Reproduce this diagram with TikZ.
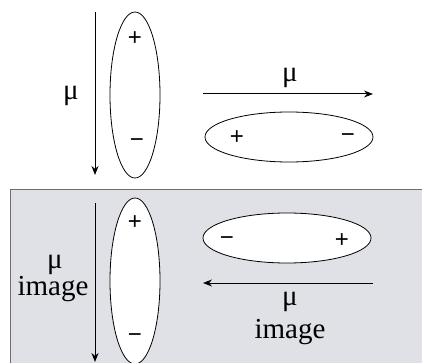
\documentclass[tikz,border=0pt]{standalone}
\usepackage{fontspec}
\setmainfont{Liberation Serif}
\newfontfamily\signfont{Liberation Sans}
\usepackage{xcolor}
\usetikzlibrary{shapes.geometric,arrows.meta}
\definecolor{boxgray}{RGB}{223,225,230}
\definecolor{edgegray}{RGB}{110,110,110}

\tikzset{
  pole/.style={draw,ellipse,inner sep=0pt,line width=0.8pt},
  sign/.style={font=\signfont\fontsize{24}{24}\selectfont,inner sep=0pt},
  lab/.style={font=\fontsize{29}{30}\selectfont,inner sep=0pt,anchor=base},
  dir/.style={line width=1pt,-{Stealth[length=9pt,width=7pt]}}
}

\begin{document}
\begin{tikzpicture}[x=1pt,y=-1pt]
 \useasboundingbox (0,0) rectangle (422,363);
 % image half
 \fill[boxgray] (10,190) rectangle (430,370);
 \draw[edgegray,line width=1pt] (430,190)--(10,190)--(10,370);
 % real dipole
 \coordinate (A1) at (95,12);
 \coordinate (A2) at (95,175);
 \coordinate (B1) at (203,94);
 \coordinate (B2) at (373,94);
 \draw[dir] (A1)--(A2);
 \draw[dir] (B1)--(B2);
 \node[lab] (muA) at (71,100) {μ};
 \node[lab] (muB) at (290,82) {μ};
 \node[pole,minimum width=50,minimum height=166] (E1) at (135,95) {};
 \node[sign] (p1) at (135,39) {+};
 \node[sign] (m1) at (137,143) {−};
 \node[pole,minimum width=168,minimum height=50] (E2) at (289,137) {};
 \node[sign] (p2) at (237,138) {+};
 \node[sign] (m2) at (348,138) {−};
 % image dipole
 \coordinate (C1) at (95,203);
 \coordinate (C2) at (95,362);
 \coordinate (D1) at (373,283);
 \coordinate (D2) at (203,283);
 \draw[dir] (C1)--(C2);
 \draw[dir] (D1)--(D2);
 \node[lab] (muC) at (55,268) {μ};
 \node[lab] (imC) at (53,295) {image};
 \node[lab] (muD) at (290,305) {μ};
 \node[lab] (imD) at (290,338) {image};
 \node[pole,fill=white,minimum width=50,minimum height=166] (E3) at (135,281) {};
 \node[sign] (p3) at (135,223) {+};
 \node[sign] (m3) at (135,338) {−};
 \node[pole,fill=white,minimum width=168,minimum height=50] (E4) at (287,238) {};
 \node[sign] (m4) at (227,241) {−};
 \node[sign] (p4) at (342,241) {+};
\end{tikzpicture}
\end{document}
